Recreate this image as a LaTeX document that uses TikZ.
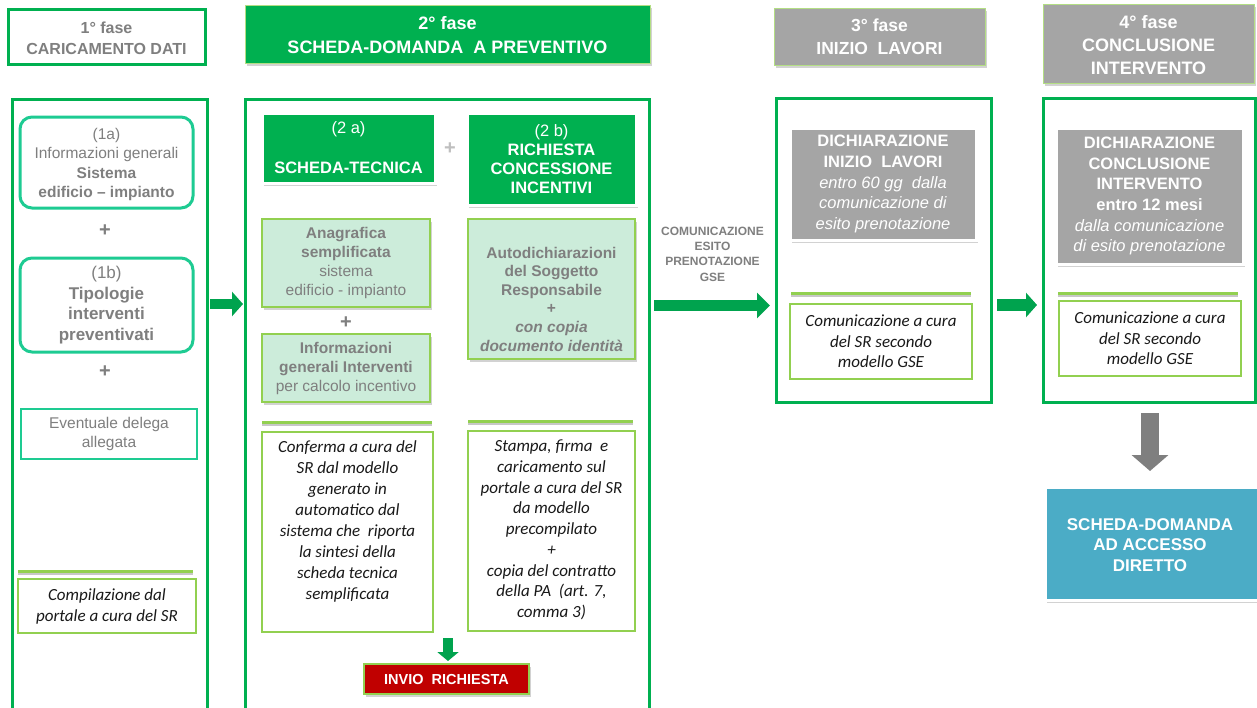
\documentclass[tikz,border=0pt]{standalone}
\usepackage{fontspec}
\setmainfont{Liberation Sans}
\newfontfamily\calfont{Carlito}
\usetikzlibrary{shadows,arrows.meta}
\definecolor{fgreen}{HTML}{00B050}
\definecolor{agreen}{HTML}{00A34E}
\definecolor{lgreen}{HTML}{92D050}
\definecolor{tealb}{HTML}{1ECB92}
\definecolor{txtgray}{HTML}{7F7F7F}
\definecolor{boxgray}{HTML}{A5A5A5}
\definecolor{mint}{HTML}{CCECDA}
\definecolor{sblue}{HTML}{4BACC6}
\definecolor{dred}{HTML}{C00000}
\newcommand\fsz[2]{\fontsize{#1}{#2}\selectfont}
\begin{document}
\begin{tikzpicture}[x=1pt,y=-1pt,
  every node/.style={inner sep=0pt, align=center},
  shad/.style={drop shadow={shadow xshift=1.5pt, shadow yshift=-2.5pt, opacity=.35}},
  container/.style={draw=fgreen, line width=3pt},
  hdrw/.style={draw=fgreen, line width=3pt, fill=white, text=txtgray},
  hdrf/.style={fill=#1, draw=lgreen!70, line width=1pt, text=white, shad},
  hdrf/.default=fgreen,
  solidbox/.style={fill=#1, draw=white, line width=3pt, text=white, shad},
  rbox/.style={draw=tealb, line width=3pt, rounded corners=12pt, text=txtgray},
  tbox/.style={draw=tealb, line width=1.5pt, text=txtgray},
  mbox/.style={fill=mint, draw=lgreen, line width=1.5pt, text=txtgray, shad},
  nbox/.style={draw=lgreen, line width=1.5pt},
  ntext/.style={text=black!90, font={\calfont\itshape\fsz{17}{21}}},
  plus/.style={text=txtgray, font={\bfseries\fsz{20}{20}}},
  sepl/.style={draw=lgreen, line width=3pt, preaction={draw=black, draw opacity=.22, line width=3pt, transform canvas={yshift=-2.5pt}}},
]
\clip (0,0) rectangle (1257,707);
\fill[white] (0,0) rectangle (1257,707);

% ---------------- column 1
\node[container, minimum width=195, minimum height=620] (c1) at (109.5,409) {};
\node[hdrw, minimum width=197, minimum height=55] (h1) at (106.5,36.5) {};
\node[text=txtgray, font={\bfseries\fsz{16}{21}}] (t1) at (106.5,38) {1° fase\\CARICAMENTO DATI};
\node[rbox, minimum width=173, minimum height=91] (b1a) at (106.5,162.5) {};
\node[text=txtgray, font={\fsz{15.5}{19.3}}] (t1a) at (106.5,164.5)
  {(1a)\\Informazioni generali\\\textbf{Sistema}\\\textbf{edificio – impianto}};
\node[plus] (p1) at (105,231) {+};
\node[rbox, minimum width=173, minimum height=94, font={\fsz{17}{20.8}}] (b1b) at (106.5,305)
  {(1b)\\\textbf{Tipologie}\\\textbf{interventi}\\\textbf{preventivati}};
\node[plus] (p2) at (105,372) {+};
\node[tbox, minimum width=176, minimum height=50, font={\fsz{15.5}{19}}] (b1c) at (109,434) {Eventuale delega\\allegata};
\coordinate (s1a) at (18,571);
\coordinate (s1b) at (193,571);
\draw[sepl] (s1a) -- (s1b);
\node[nbox, minimum width=178, minimum height=54] (b1d) at (107,606) {};
\node[ntext] (t1d) at (b1d.center) {Compilazione dal\\portale a cura del SR};

% arrow 1 -> 2
\coordinate (a1s) at (210,304);
\coordinate (a1e) at (243,304);
\draw[agreen, line width=10pt, -{Triangle[length=11pt,width=24pt]}] (a1s) -- (a1e);

% ---------------- column 2
\node[container, minimum width=404, minimum height=620] (c2) at (447,409) {};
\node[hdrf, minimum width=405, minimum height=58] (h2) at (447.5,34) {};
\node[text=white, font={\bfseries\fsz{18}{24}}] (t2) at (447.5,35) {2° fase\\SCHEDA-DOMANDA\ \ A PREVENTIVO};
\node[solidbox=fgreen, minimum width=173, minimum height=70, font={\fsz{16.5}{19}}] (b2a) at (348.5,148)
  {(2 a)\\[21pt]\textbf{SCHEDA-TECNICA}};
\node[plus, text=black!25] (p3) at (450,149) {+};
\node[solidbox=fgreen, minimum width=169, minimum height=92, font={\fsz{16.5}{19}}] (b2b) at (551.5,159)
  {(2 b)\\\textbf{RICHIESTA}\\\textbf{CONCESSIONE}\\\textbf{INCENTIVI}};
\node[mbox, minimum width=168, minimum height=88, font={\fsz{15.5}{19}}] (b2c) at (346,263)
  {\textbf{Anagrafica}\\\textbf{semplificata}\\sistema\\edificio - impianto};
\node[plus] (p4) at (346,323) {+};
\node[mbox, minimum width=168, minimum height=68, font={\fsz{15.5}{19}}] (b2d) at (346,368)
  {\textbf{Informazioni}\\\textbf{generali Interventi}\\per calcolo incentivo};
\node[mbox, minimum width=167, minimum height=140] (b2e) at (551.5,289) {};
\node[text=txtgray, font={\fsz{15.5}{18.6}}] (t2e) at (551.5,299)
  {\textbf{Autodichiarazioni}\\\textbf{del Soggetto}\\\textbf{Responsabile}\\\textbf{+}\\\textbf{\itshape con copia}\\\textbf{\itshape documento identità}};
\coordinate (s2a) at (262,422);
\coordinate (s2b) at (432,422);
\coordinate (s2c) at (468,421);
\coordinate (s2d) at (633,421);
\draw[sepl] (s2a) -- (s2b);
\draw[sepl] (s2c) -- (s2d);
\node[nbox, minimum width=171, minimum height=200] (b2f) at (347.5,532) {};
\node[ntext] (t2f) at (347.5,521.5)
  {Conferma a cura del\\SR dal modello\\generato in\\automatico dal\\sistema che\ \ riporta\\la sintesi della\\scheda tecnica\\semplificata};
\node[nbox, minimum width=167, minimum height=200] (b2g) at (551.5,531) {};
\node[ntext, font={\calfont\itshape\fsz{17}{20.75}}] (t2g) at (551.5,530)
  {Stampa, firma\ \ e\\caricamento sul\\portale a cura del SR\\da modello\\precompilato\\+\\copia del contratto\\della PA\ \ (art. 7,\\comma 3)};
\node[fill=dred, draw=lgreen, line width=1.5pt, text=white, shad, minimum width=165, minimum height=30, font={\bfseries\fsz{14.5}{17}}] (b2h) at (446.5,679) {INVIO\ \ RICHIESTA};
\coordinate (a2s) at (448,638);
\coordinate (a2e) at (448,661);
\draw[agreen, line width=10pt, -{Triangle[length=9pt,width=21pt]}] (a2s) -- (a2e);

% ---------------- middle
\node[text=txtgray, font={\bfseries\fsz{12}{15.3}}] (lab) at (712.5,254) {COMUNICAZIONE\\ESITO\\PRENOTAZIONE\\GSE};
\coordinate (a3s) at (654,305.5);
\coordinate (a3e) at (770,305.5);
\draw[agreen, line width=11pt, -{Triangle[length=13pt,width=25pt]}] (a3s) -- (a3e);

% ---------------- column 3
\node[container, minimum width=215, minimum height=304] (c3) at (883.5,250) {};
\node[hdrf=boxgray, minimum width=211, minimum height=57] (h3) at (879.5,36.5) {};
\node[text=white, font={\bfseries\fsz{17.5}{23}}] (t3) at (879.5,37) {3° fase\\INIZIO\ \ LAVORI};
\node[solidbox=boxgray, minimum width=186, minimum height=112, font={\fsz{16.5}{20.75}}] (b3a) at (883,184)
  {\textbf{DICHIARAZIONE}\\\textbf{INIZIO\ \ LAVORI}\\\textit{entro 60 gg\ \ dalla}\\\textit{comunicazione di}\\\textit{esito prenotazione}};
\coordinate (s3a) at (791,293);
\coordinate (s3b) at (971,293);
\draw[sepl] (s3a) -- (s3b);
\node[nbox, minimum width=182, minimum height=75] (b3b) at (881,341.5) {};
\node[ntext, font={\calfont\itshape\fsz{17}{20.5}}] (t3b) at (b3b.center) {Comunicazione a cura\\del SR secondo\\modello GSE};

% arrow 3 -> 4
\coordinate (a4s) at (997,305);
\coordinate (a4e) at (1037,305);
\draw[agreen, line width=12pt, -{Triangle[length=11pt,width=24pt]}] (a4s) -- (a4e);

% ---------------- column 4
\node[container, minimum width=212, minimum height=304] (c4) at (1149,250) {};
\node[hdrf=boxgray, minimum width=211, minimum height=79] (h4) at (1148.5,43.5) {};
\node[text=white, font={\bfseries\fsz{18}{23}}] (t4) at (1148.5,45) {4° fase\\CONCLUSIONE\\INTERVENTO};
\node[solidbox=boxgray, minimum width=187, minimum height=136, font={\fsz{16.5}{20.7}}] (b4a) at (1149.5,196)
  {\textbf{DICHIARAZIONE}\\\textbf{CONCLUSIONE}\\\textbf{INTERVENTO}\\\textbf{entro 12 mesi}\\\textit{dalla comunicazione}\\\textit{di esito prenotazione}};
\coordinate (s4a) at (1058,293);
\coordinate (s4b) at (1238,293);
\draw[sepl] (s4a) -- (s4b);
\node[nbox, minimum width=182, minimum height=75] (b4b) at (1150,338.5) {};
\node[ntext, font={\calfont\itshape\fsz{17}{20.5}}] (t4b) at (b4b.center) {Comunicazione a cura\\del SR secondo\\modello GSE};
\coordinate (a5s) at (1150,413);
\coordinate (a5e) at (1150,471);
\draw[txtgray, line width=18pt, -{Triangle[length=16pt,width=36pt]}] (a5s) -- (a5e);
\node[solidbox=sblue, minimum width=217, minimum height=113] (b4c) at (1153.5,543.5) {};
\node[text=white, font={\bfseries\fsz{17}{20.8}}] (t4c) at (1150,545)
  {SCHEDA-DOMANDA\\AD ACCESSO\\DIRETTO};
\end{tikzpicture}
\end{document}
